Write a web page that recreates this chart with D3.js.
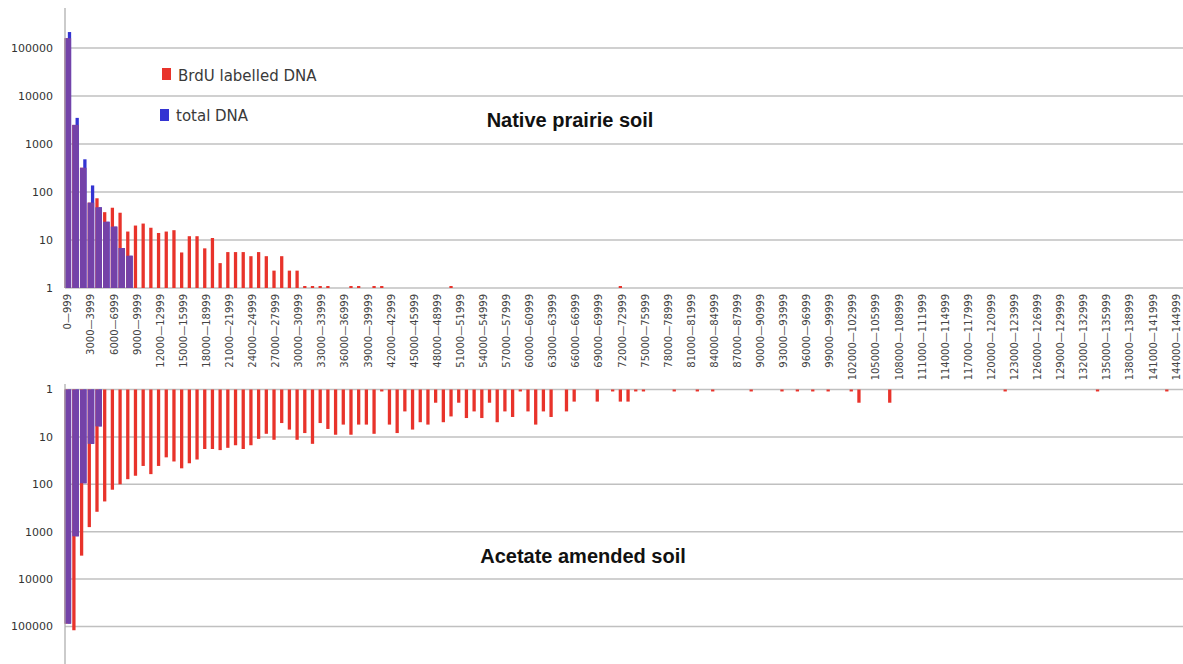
<!DOCTYPE html>
<html>
<head>
<meta charset="utf-8">
<script src="https://cdn.jsdelivr.net/npm/d3@7"></script>
<style>
  body { margin: 0; background: #fff; }
  svg { display: block; }
</style>
</head>
<body>
<svg id="chart" width="1183" height="664"></svg>
<script>
// Fragment-size bins (bp), 1000 wide each
const binSize = 1000;
const binCount = 145;
const categories = d3.range(binCount).map(i => `${i * binSize}\u2014${i * binSize + binSize - 1}`);
const labelEvery = 3;
const yTickValues = [1, 10, 100, 1000, 10000, 100000];
const seriesNames = ["BrdU labelled DNA", "total DNA"];

// Native prairie soil – counts per bin
const prairieBrdU = [
  160000, 2500, 320, 60, 74, 38, 47, 37, 15, 20, 22, 18, 14, 15, 16,
  5.5, 12, 12, 6.7, 11, 3.3, 5.6, 5.6, 5.6, 4.6, 5.6, 4.6, 2.3, 4.6, 2.3,
  2.3, 1.1, 1.1, 1.1, 1.1, 0, 0, 1.1, 1.1, 0, 1.1, 1.1, 0, 0, 0,
  0, 0, 0, 0, 0, 1.1, 0, 0, 0, 0, 0, 0, 0, 0, 0,
  0, 0, 0, 0, 0, 0, 0, 0, 0, 0, 0, 0, 1.1, 0, 0,
  0, 0, 0, 0, 0, 0, 0, 0, 0, 0, 0, 0, 0, 0, 0,
  0, 0, 0, 0, 0, 0, 0, 0, 0, 0, 0, 0, 0, 0, 0,
  0, 0, 0, 0, 0, 0, 0, 0, 0, 0, 0, 0, 0, 0, 0,
  0, 0, 0, 0, 0, 0, 0, 0, 0, 0, 0, 0, 0, 0, 0,
  0, 0, 0, 0, 0, 0, 0, 0, 0, 0
];
const prairieTotal = [
  215000, 3500, 480, 137, 48, 24, 19, 6.8, 4.7, 0, 0, 0, 0, 0, 0,
  0, 0, 0, 0, 0, 0, 0, 0, 0, 0, 0, 0, 0, 0, 0,
  0, 0, 0, 0, 0, 0, 0, 0, 0, 0, 0, 0, 0, 0, 0,
  0, 0, 0, 0, 0, 0, 0, 0, 0, 0, 0, 0, 0, 0, 0,
  0, 0, 0, 0, 0, 0, 0, 0, 0, 0, 0, 0, 0, 0, 0,
  0, 0, 0, 0, 0, 0, 0, 0, 0, 0, 0, 0, 0, 0, 0,
  0, 0, 0, 0, 0, 0, 0, 0, 0, 0, 0, 0, 0, 0, 0,
  0, 0, 0, 0, 0, 0, 0, 0, 0, 0, 0, 0, 0, 0, 0,
  0, 0, 0, 0, 0, 0, 0, 0, 0, 0, 0, 0, 0, 0, 0,
  0, 0, 0, 0, 0, 0, 0, 0, 0, 0
];

// Acetate amended soil – counts per bin
const acetateBrdU = [
  87000, 120000, 3200, 800, 380, 230, 130, 100, 78, 66, 41, 61, 41, 27, 33,
  46, 36, 30, 18, 18, 19, 17, 15, 18, 15, 11, 8.6, 11.5, 5.1, 7,
  11.5, 8.3, 14, 5.1, 6.8, 9, 5.5, 9, 5.5, 5.5, 8.6, 1.1, 5.5, 8.3, 2.9,
  7, 4.9, 5.5, 1.9, 4.9, 3.7, 1.9, 4, 2.9, 4, 1.9, 4.9, 2.9, 3.8, 1.1,
  2.9, 5.5, 2.9, 3.8, 0, 2.9, 1.8, 0, 0, 1.8, 0, 1.1, 1.8, 1.8, 1.1,
  1.1, 0, 0, 0, 1.1, 0, 0, 1.1, 0, 1.1, 0, 0, 0, 0, 1.1,
  0, 0, 0, 1.1, 0, 1.1, 0, 1.1, 0, 1.1, 0, 0, 1.1, 1.9, 0,
  0, 0, 1.9, 0, 0, 0, 0, 0, 0, 0, 0, 0, 0, 0, 0,
  0, 0, 1.1, 0, 0, 0, 0, 0, 0, 0, 0, 0, 0, 0, 1.1,
  0, 0, 0, 0, 0, 0, 0, 0, 1.1, 0
];
const acetateTotal = [
  87000, 1250, 95, 14, 6, 0, 0, 0, 0, 0, 0, 0, 0, 0, 0,
  0, 0, 0, 0, 0, 0, 0, 0, 0, 0, 0, 0, 0, 0, 0,
  0, 0, 0, 0, 0, 0, 0, 0, 0, 0, 0, 0, 0, 0, 0,
  0, 0, 0, 0, 0, 0, 0, 0, 0, 0, 0, 0, 0, 0, 0,
  0, 0, 0, 0, 0, 0, 0, 0, 0, 0, 0, 0, 0, 0, 0,
  0, 0, 0, 0, 0, 0, 0, 0, 0, 0, 0, 0, 0, 0, 0,
  0, 0, 0, 0, 0, 0, 0, 0, 0, 0, 0, 0, 0, 0, 0,
  0, 0, 0, 0, 0, 0, 0, 0, 0, 0, 0, 0, 0, 0, 0,
  0, 0, 0, 0, 0, 0, 0, 0, 0, 0, 0, 0, 0, 0, 0,
  0, 0, 0, 0, 0, 0, 0, 0, 0, 0
];

const colors = { red: "#e8332b", blue: "#3434d2", both: "#7442a8" };
const gridColor = "#c0c0c0";
const axisColor = "#a8a8a8";

const svg = d3.select("#chart");

const x = d3.scaleBand().domain(categories).range([64, 1180]).paddingInner(0).paddingOuter(0);
const sub = d3.scaleBand().domain(["red", "blue"]).range([0, x.bandwidth()]).paddingOuter(0.17);

// Two panels share the x scale; the lower one hangs down from its baseline
const panels = [
  { title: "Native prairie soil", red: prairieBrdU, blue: prairieTotal,
    y: d3.scaleLog().domain([1, 1e5]).range([288, 48]), axisEnds: [8, 288],
    titlePos: [570, 127] },
  { title: "Acetate amended soil", red: acetateBrdU, blue: acetateTotal,
    y: d3.scaleLog().domain([1, 1e5]).range([389.5, 626.5]), axisEnds: [384, 664],
    titlePos: [583, 563] }
];

panels.forEach(p => {
  const g = svg.append("g");
  const y = p.y;
  const base = y(1);

  // horizontal gridlines
  g.selectAll("line.grid").data(yTickValues).join("line")
    .attr("x1", 65).attr("x2", 1183)
    .attr("y1", d => y(d)).attr("y2", d => y(d))
    .attr("stroke", gridColor).attr("stroke-width", 1.5);

  // y tick labels
  g.selectAll("text.ytick").data(yTickValues).join("text")
    .attr("x", 53).attr("y", d => y(d)).attr("dy", "0.35em")
    .attr("text-anchor", "end")
    .attr("font-family", "DejaVu Sans").attr("font-size", 11)
    .attr("fill", "#333")
    .text(d => d3.format("d")(d));

  const barRect = (sel, values, key, color) => {
    sel.selectAll(`rect.${key}`)
      .data(values.map((v, i) => ({ v, i })).filter(d => d.v > 1))
      .join("rect")
      .attr("x", d => x(categories[d.i]) + sub(key))
      .attr("width", sub.bandwidth())
      .attr("y", d => Math.min(base, y(d.v)))
      .attr("height", d => Math.abs(y(d.v) - base))
      .attr("fill", color);
  };
  barRect(g, p.red, "red", colors.red);
  barRect(g, p.blue, "blue", colors.blue);

  // where both series are present, the shared part is drawn in the blended colour
  const shared = p.red.map((v, i) => ({ v: Math.min(v, p.blue[i]), i })).filter(d => d.v > 1);
  g.selectAll("rect.both").data(shared).join("rect")
    .attr("x", d => x(categories[d.i]) + sub("red"))
    .attr("width", sub.bandwidth() * 2)
    .attr("y", d => Math.min(base, y(d.v)))
    .attr("height", d => Math.abs(y(d.v) - base))
    .attr("fill", colors.both);

  // vertical axis
  g.append("line")
    .attr("x1", 65).attr("x2", 65)
    .attr("y1", p.axisEnds[0]).attr("y2", p.axisEnds[1])
    .attr("stroke", axisColor).attr("stroke-width", 1.2);

  g.append("text")
    .attr("x", p.titlePos[0]).attr("y", p.titlePos[1])
    .attr("text-anchor", "middle")
    .attr("font-family", "Liberation Sans, Arial, sans-serif")
    .attr("font-weight", "bold").attr("font-size", 20)
    .attr("fill", "#111")
    .text(p.title);
});

// category labels under the upper panel
svg.append("g").selectAll("text")
  .data(categories.filter((c, i) => i % labelEvery === 0))
  .join("text")
  .attr("transform", d => `translate(${x(d) + x.bandwidth() / 2 + 3.5},294) rotate(-90)`)
  .attr("text-anchor", "end")
  .attr("font-family", "DejaVu Sans").attr("font-size", 10)
  .attr("fill", "#444")
  .text(d => d);

// legend
const legend = svg.append("g");
const legendItems = [
  { name: seriesNames[0], color: colors.red, sq: [162, 68], tx: [178, 81] },
  { name: seriesNames[1], color: colors.blue, sq: [160, 109], tx: [176, 121] }
];
legendItems.forEach(d => {
  legend.append("rect").attr("x", d.sq[0]).attr("y", d.sq[1])
    .attr("width", 9).attr("height", 12).attr("fill", d.color);
  legend.append("text").attr("x", d.tx[0]).attr("y", d.tx[1])
    .attr("font-family", "DejaVu Sans").attr("font-size", 15)
    .attr("fill", "#3a3a3a").text(d.name);
});
</script>
</body>
</html>
